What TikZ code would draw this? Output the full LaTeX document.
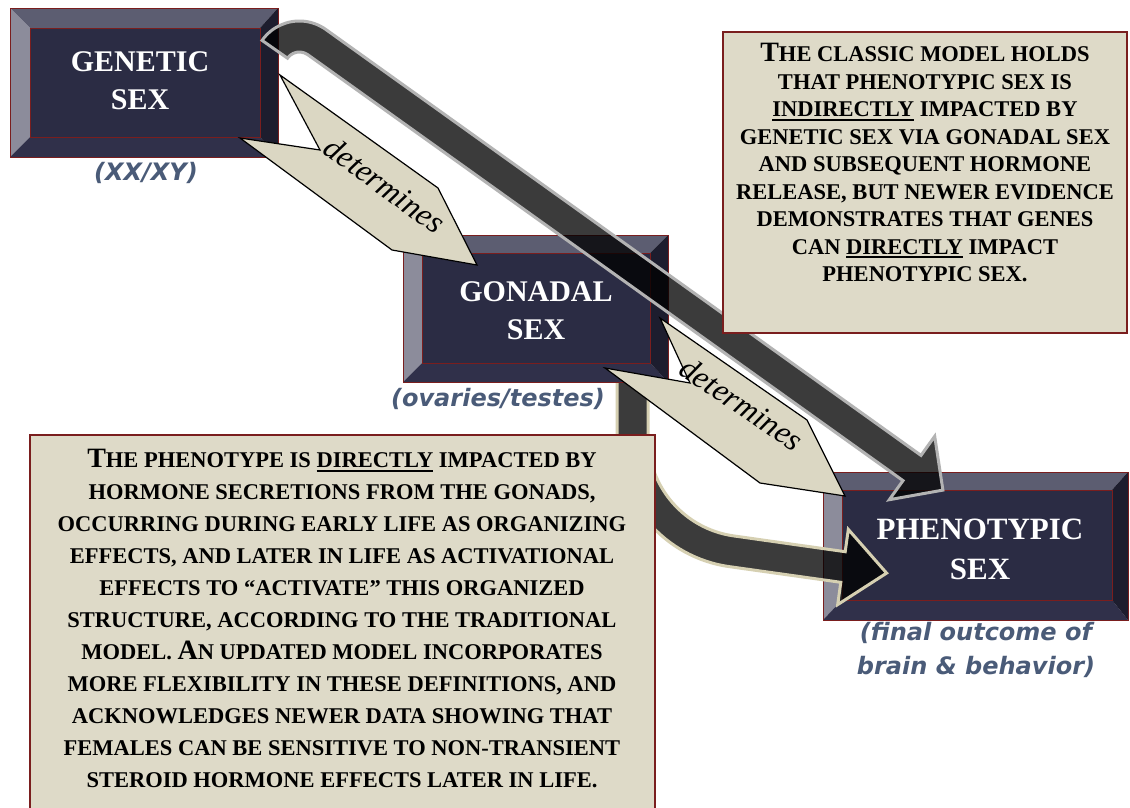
\documentclass[tikz,border=0pt]{standalone}
\usepackage{fontspec}
\setmainfont{Liberation Serif}
\newfontfamily\lblfont{DejaVu Sans}
\definecolor{face}{HTML}{2B2C44}
\definecolor{bevtop}{HTML}{5C5D71}
\definecolor{bevleft}{HTML}{8C8C9B}
\definecolor{bevbot}{HTML}{30304A}
\definecolor{bevright}{HTML}{1D1D2E}
\definecolor{boxred}{HTML}{7A1E1E}
\definecolor{beige}{HTML}{DBD7C3}
\definecolor{notebg}{HTML}{DEDAC8}
\definecolor{lblblue}{HTML}{4A5B78}
\definecolor{grayline}{HTML}{B3B3B3}
\definecolor{beigeline}{HTML}{D6D0B2}
\newcommand\bevelbox[8]{%
 \fill[bevtop] (#1,#2) -- (#3,#2) -- (#7,#6) -- (#5,#6) -- cycle;
 \fill[bevleft] (#1,#2) -- (#5,#6) -- (#5,#8) -- (#1,#4) -- cycle;
 \fill[bevbot] (#1,#4) -- (#5,#8) -- (#7,#8) -- (#3,#4) -- cycle;
 \fill[bevright] (#3,#2) -- (#3,#4) -- (#7,#8) -- (#7,#6) -- cycle;
 \draw[boxred, line width=1pt, fill=face] (#5,#6) rectangle (#7,#8);
 \draw[boxred, line width=1pt] (#1,#2) rectangle (#3,#4);
}
\newcommand\capinit[1]{{\fontsize{28}{28}\selectfont #1}}
\newcommand\myul[1]{\leavevmode\vtop{\hbox{#1}\kern1.6pt\hrule height 1.8pt}}
\tikzset{
  boxtxt/.style={text=white, font=\fontsize{30}{38}\selectfont\bfseries, align=center, inner sep=0pt, anchor=south},
  lbl/.style={text=lblblue, font=\lblfont\fontsize{24}{34}\selectfont\bfseries\itshape, align=center, inner sep=0pt},
  notetxt/.style={font=\fontsize{22.5}{27.5}\selectfont\bfseries, align=center, inner sep=0pt, anchor=south},
  detarrow/.style={fill=beige, draw=black, line width=1.2pt, line join=miter},
  dettxt/.style={font=\fontsize{32}{32}\selectfont\itshape, inner sep=0pt},
  notebox/.style={fill=notebg, draw=boxred, line width=1.2pt},
  bigarrow/.style={fill=black, fill opacity=0.77, line width=3pt, line join=miter},
}
\begin{document}
\begin{tikzpicture}[x=1pt,y=-1pt]
\useasboundingbox (0,0) rectangle (1130,807);
\fill[white] (0,0) rectangle (1130,807);
% phenotypic box
\bevelbox{823}{472}{1128}{620}{842}{490}{1112}{600}
% curved arrow gonadal -> phenotypic (behind note box)
\path[bigarrow, draw=beigeline] (617,366) -- (617,437.4)
  arc[start angle=180, end angle=98, radius=130.5]
  -- (840.8,582.3) -- (837.7,604.6) -- (886.6,573.1) -- (848.3,529.4) -- (845.2,551.7)
  -- (733.7,535.9) arc[start angle=98, end angle=180, radius=99.5]
  -- (648,366) -- cycle;
% gonadal and genetic boxes
\bevelbox{403}{235}{668}{382}{422}{253}{650}{363}
\bevelbox{10}{8}{278}{157}{30}{28}{260}{137}
% bent arrow genetic -> phenotypic
\path[bigarrow, draw=grayline] (262.1,40.4)
  arc[start angle=-145, end angle=-54.4, radius=45.5]
  -- (921.0,455.4) -- (934.7,436.3) -- (942.9,490.1) -- (889.3,499.7) -- (903.0,480.6)
  -- (307.8,54.7) arc[start angle=-54.4, end angle=-145, radius=14.5] -- cycle;
% note boxes
\draw[notebox] (30,435) rectangle (655,815);
\draw[notebox] (723,32) rectangle (1127,333);
\node[notetxt] (notetop) at (925,282.5) {\capinit{T}HE CLASSIC MODEL HOLDS\\
THAT PHENOTYPIC SEX IS\\
\myul{INDIRECTLY} IMPACTED BY\\
GENETIC SEX VIA GONADAL SEX\\
AND SUBSEQUENT HORMONE\\
RELEASE, BUT NEWER EVIDENCE\\
DEMONSTRATES THAT GENES\\
CAN \myul{DIRECTLY} IMPACT\\
PHENOTYPIC SEX.};
\node[notetxt, font=\fontsize{22.5}{32}\selectfont\bfseries] (notebot) at (342,788.5) {\capinit{T}HE PHENOTYPE IS \myul{DIRECTLY} IMPACTED BY\\
HORMONE SECRETIONS FROM THE GONADS,\\
OCCURRING DURING EARLY LIFE AS ORGANIZING\\
EFFECTS, AND LATER IN LIFE AS ACTIVATIONAL\\
EFFECTS TO “ACTIVATE” THIS ORGANIZED\\
STRUCTURE, ACCORDING TO THE TRADITIONAL\\
MODEL. \capinit{A}N UPDATED MODEL INCORPORATES\\
MORE FLEXIBILITY IN THESE DEFINITIONS, AND\\
ACKNOWLEDGES NEWER DATA SHOWING THAT\\
FEMALES CAN BE SENSITIVE TO NON-TRANSIENT\\
STEROID HORMONE EFFECTS LATER IN LIFE.};
% determines arrows
\draw[detarrow] (280,75) -- (438,188) -- (477,265) -- (392,250) -- (240,138) -- (320,150) -- cycle;
\node[dettxt, rotate=-36] (det1) at (385,185) {determines};
\draw[detarrow] (660,318) -- (807,420) -- (845,496) -- (760,483) -- (605,368) -- (690,383) -- cycle;
\node[dettxt, rotate=-34] (det2) at (742,404) {determines};
% box texts
\node[boxtxt] (genetic) at (140,110) {GENETIC\\SEX};
\node[boxtxt] (gonadal) at (536,340) {GONADAL\\SEX};
\node[boxtxt, font=\fontsize{31}{40}\selectfont\bfseries] (pheno) at (980,580) {PHENOTYPIC\\SEX};
% labels
\node[lbl] (lgen) at (146,173) {(XX/XY)};
\node[lbl] (lgon) at (498,399) {(ovaries/testes)};
\node[lbl] (lphe) at (976,650) {(final outcome of\\brain \& behavior)};
\end{tikzpicture}
\end{document}
